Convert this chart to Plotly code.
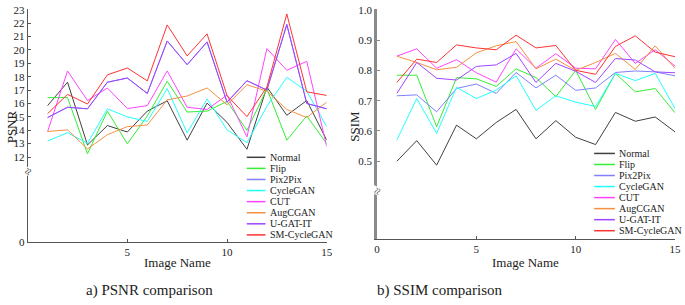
import plotly.graph_objects as go

W, H = 685, 305

image_idx = list(range(1, 16))
series_names = ["Normal", "Flip", "Pix2Pix", "CycleGAN", "CUT", "AugCGAN", "U-GAT-IT", "SM-CycleGAN"]
series_colors = ["#404040", "#33ee33", "#7f7fff", "#22ffff", "#ff44ff", "#f59040", "#a044ff", "#ff3333"]

psnr_normal = [15.84, 17.59, 12.9, 14.35, 13.87, 15.43, 16.2, 13.26, 16.03, 14.59, 12.58, 17.23, 15.12, 16.22, 13.26]
psnr_flip = [16.44, 16.44, 12.24, 15.43, 12.98, 15.07, 17.66, 15.36, 15.43, 16.15, 13.99, 17.1, 13.26, 15.07, 13.0]
psnr_pix2pix = [14.95, 15.72, 15.6, 17.59, 17.9, 16.75, 20.67, 18.9, 20.6, 16.1, 17.7, 17.0, 21.9, 16.0, 15.6]
psnr_cyclegan = [13.19, 13.82, 13.02, 15.6, 15.0, 14.66, 17.11, 13.8, 16.34, 14.03, 13.07, 15.79, 17.95, 16.92, 14.27]
psnr_cut = [13.9, 18.43, 16.22, 17.16, 15.62, 15.84, 18.43, 15.72, 15.55, 16.63, 13.5, 20.1, 18.48, 19.15, 12.78]
psnr_augcgan = [13.91, 14.03, 12.6, 13.67, 14.27, 14.39, 16.27, 16.56, 17.16, 15.9, 17.4, 16.92, 15.55, 14.95, 16.1]
psnr_ugatit = [14.95, 15.72, 15.6, 17.59, 17.9, 16.75, 20.67, 18.9, 20.6, 16.1, 17.7, 17.0, 21.9, 16.0, 15.6]
psnr_smcyclegan = [15.24, 16.68, 15.96, 18.14, 18.65, 17.69, 21.87, 19.56, 21.2, 16.6, 15.02, 17.23, 22.69, 16.87, 16.6]

ssim_normal = [0.5, 0.568, 0.487, 0.619, 0.574, 0.628, 0.671, 0.574, 0.634, 0.579, 0.555, 0.661, 0.632, 0.646, 0.597]
ssim_flip = [0.784, 0.784, 0.614, 0.776, 0.772, 0.747, 0.805, 0.776, 0.713, 0.8, 0.671, 0.79, 0.729, 0.74, 0.66]
ssim_pix2pix = [0.716, 0.719, 0.663, 0.74, 0.755, 0.724, 0.793, 0.742, 0.784, 0.734, 0.742, 0.793, 0.798, 0.795, 0.782]
ssim_cyclegan = [0.571, 0.707, 0.592, 0.744, 0.707, 0.735, 0.782, 0.668, 0.716, 0.695, 0.681, 0.79, 0.766, 0.79, 0.674]
ssim_cut = [0.847, 0.871, 0.807, 0.835, 0.792, 0.761, 0.871, 0.807, 0.855, 0.807, 0.805, 0.902, 0.823, 0.868, 0.814]
ssim_augcgan = [0.847, 0.826, 0.802, 0.81, 0.858, 0.881, 0.895, 0.805, 0.837, 0.8, 0.826, 0.856, 0.803, 0.881, 0.807]
ssim_ugatit = [0.724, 0.826, 0.774, 0.768, 0.813, 0.818, 0.856, 0.76, 0.823, 0.797, 0.76, 0.839, 0.834, 0.795, 0.792]
ssim_smcyclegan = [0.76, 0.837, 0.826, 0.884, 0.874, 0.868, 0.916, 0.874, 0.882, 0.8, 0.787, 0.879, 0.914, 0.86, 0.845]

psnr_ticks = [12, 13, 14, 15, 16, 17, 18, 19, 20, 21, 22, 23]
psnr_zero_pos = 5.64  # where the "0" of the broken axis sits
ssim_ticks = [0.5, 0.6, 0.7, 0.8, 0.9, 1.0]

psnr_all = [psnr_normal, psnr_flip, psnr_pix2pix, psnr_cyclegan, psnr_cut, psnr_augcgan, psnr_ugatit, psnr_smcyclegan]
ssim_all = [ssim_normal, ssim_flip, ssim_pix2pix, ssim_cyclegan, ssim_cut, ssim_augcgan, ssim_ugatit, ssim_smcyclegan]

FONT = "Liberation Serif"

def px(x):
    return x / W

def py(y):
    return 1 - y / H

fig = go.Figure()
for name, col, ys in zip(series_names, series_colors, psnr_all):
    fig.add_trace(go.Scatter(x=image_idx, y=ys, mode="lines", name=name,
                             line=dict(color=col, width=1), xaxis="x", yaxis="y",
                             showlegend=False))
for name, col, ys in zip(series_names, series_colors, ssim_all):
    fig.add_trace(go.Scatter(x=image_idx, y=ys, mode="lines", name=name,
                             line=dict(color=col, width=1), xaxis="x2", yaxis="y2",
                             showlegend=False))

tickfont = dict(family=FONT, size=11, color="#222")

fig.update_layout(
    width=W, height=H,
    margin=dict(l=0, r=0, t=0, b=0),
    paper_bgcolor="white", plot_bgcolor="white",
    font=dict(family=FONT, color="#222"),
    xaxis=dict(domain=[px(25), px(328)], range=[0, 15], tickvals=[5, 10, 15],
               showline=True, linecolor="#555", linewidth=1, ticks="inside", ticklen=3,
               tickcolor="#555", showgrid=False, zeroline=False, tickfont=tickfont,
               ticklabeloverflow="allow", anchor="y"),
    yaxis=dict(domain=[py(246), py(4)], range=[psnr_zero_pos, 23.07],
               tickvals=[psnr_zero_pos] + psnr_ticks,
               ticktext=["0"] + [str(t) for t in psnr_ticks],
               showline=True, linecolor="#555", linewidth=1, ticks="inside", ticklen=3,
               tickcolor="#555", showgrid=False, zeroline=False, tickfont=tickfont,
               ticklabeloverflow="allow", anchor="x"),
    xaxis2=dict(domain=[px(379), px(681)], range=[0, 15], tickvals=[0, 5, 10, 15],
                showline=True, linecolor="#555", linewidth=1, ticks="inside", ticklen=3,
                tickcolor="#555", showgrid=False, zeroline=False, tickfont=tickfont,
                ticklabeloverflow="allow", anchor="y2"),
    yaxis2=dict(domain=[py(243), py(4)], range=[0.2425, 1.003],
                tickvals=ssim_ticks, ticktext=["%.1f" % t for t in ssim_ticks],
                showline=True, linecolor="#8a8a8a", linewidth=2.5, ticks="inside", ticklen=3,
                tickcolor="#8a8a8a", showgrid=False, zeroline=False, tickfont=tickfont,
                ticklabeloverflow="allow", anchor="x2"),
)

shapes = []
annotations = []

# axis break glyphs
annotations.append(dict(x=0, y=10.95, xref="x", yref="y", text="≈", showarrow=False,
                        textangle=-65, font=dict(family=FONT, size=13, color="#333"),
                        xanchor="center", yanchor="middle", bgcolor="white", borderpad=0))
annotations.append(dict(x=0, y=0.40, xref="x2", yref="y2", text="≈", showarrow=False,
                        textangle=-65, font=dict(family=FONT, size=13, color="#555"),
                        xanchor="center", yanchor="middle", bgcolor="white", borderpad=0))

# manual legends
def legend(x0, x1, xt, y0, dy):
    for k, (name, col) in enumerate(zip(series_names, series_colors)):
        yy = y0 + dy * k
        shapes.append(dict(type="line", xref="paper", yref="paper",
                           x0=px(x0), x1=px(x1), y0=py(yy), y1=py(yy),
                           line=dict(color=col, width=1.5)))
        annotations.append(dict(x=px(xt), y=py(yy), xref="paper", yref="paper",
                                text=name, showarrow=False, xanchor="left", yanchor="middle",
                                font=dict(family=FONT, size=10, color="#222")))

legend(247, 266, 269, 158, 11.5)
legend(599, 620, 622, 154, 11.45)

def label(x, y, text, size, angle=0):
    annotations.append(dict(x=px(x), y=py(y), xref="paper", yref="paper", text=text,
                            textangle=angle, showarrow=False, xanchor="center",
                            yanchor="middle", font=dict(family=FONT, size=size, color="#222")))

label(9, 126, "PSNR", 13, -90)
label(356, 126, "SSIM", 13, -90)
label(176.5, 267, "Image Name", 13)
label(529.5, 267, "Image Name", 13)
label(148.5, 296, "a) PSNR comparison", 15)
label(442.5, 296, "b) SSIM comparison", 15)

fig.update_layout(shapes=shapes, annotations=annotations)
fig.write_html("out.html", config={"displayModeBar": False},
               post_script=["document.body.style.margin='0';document.body.style.overflow='hidden';"])
